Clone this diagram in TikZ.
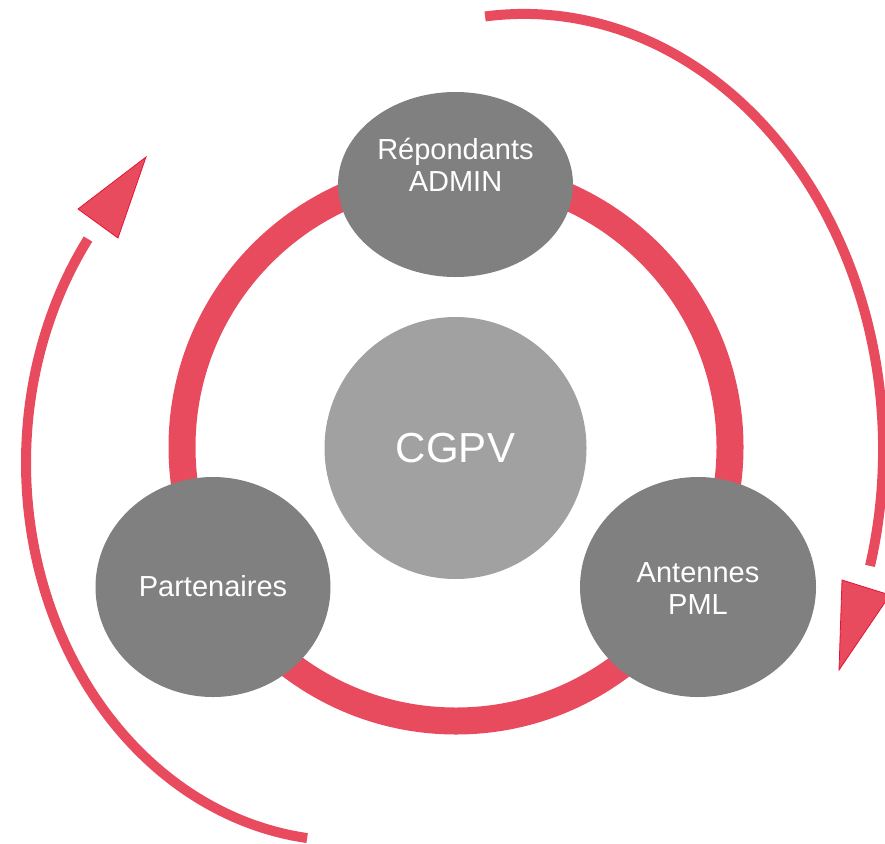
\documentclass[tikz,border=0pt]{standalone}
\usepackage{fontspec}
\setmainfont{Liberation Sans}
\usetikzlibrary{shapes.geometric}
\definecolor{ringred}{RGB}{232,75,94}
\definecolor{edgered}{RGB}{226,22,52}
\definecolor{darkg}{RGB}{128,128,128}
\definecolor{lightg}{RGB}{161,161,161}
\tikzset{
  bubble/.style={ellipse, fill=darkg, inner sep=0pt},
  hub/.style={circle, fill=lightg, inner sep=0pt, minimum size=262pt},
  lbl/.style={text=white, font=\fontsize{29}{33}\selectfont, anchor=base, inner sep=0pt},
  arcline/.style={draw=ringred, line width=10pt},
  head/.style={fill=ringred, draw=edgered, line width=0.8pt, line join=miter},
}
\begin{document}
\begin{tikzpicture}[x=1pt,y=-1pt]
\useasboundingbox (0,0) rectangle (885,843);
\clip (0,0) rectangle (885,843);
% ring
\coordinate (rc) at (456,447);
\draw[ringred, line width=27pt] (rc) circle[radius=274pt];
% outer arcs (elliptical)
\draw[arcline] plot[domain=-96.2:15.5, samples=120, smooth] ({523.9+359.2*cos(\x)}, {449.5+435.6*sin(\x)});
\draw[arcline] plot[domain=96.9:216.3, samples=120, smooth] ({345.5+319.5*cos(\x)}, {462.8+378*sin(\x)});
% arrowheads
\coordinate (ha1) at (78,209);
\coordinate (ha2) at (146,157);
\coordinate (ha3) at (118,238);
\filldraw[head] (ha1) -- (ha2) -- (ha3) -- cycle;
\coordinate (hb1) at (842,580);
\coordinate (hb2) at (890,595);
\coordinate (hb3) at (839,670);
\filldraw[head] (hb1) -- (hb2) -- (hb3) -- cycle;
% bubbles
\node[bubble, minimum width=235pt, minimum height=185pt] (top) at (455.5,184.5) {};
\node[bubble, minimum width=235pt, minimum height=220pt] (left) at (213,587) {};
\node[bubble, minimum width=236pt, minimum height=220pt] (right) at (698,587) {};
\node[hub] (cgpv) at (455.5,448) {};
% labels
\node[lbl] (t1) at (455.5,159) {Répondants};
\node[lbl] (t2) at (455.5,191) {ADMIN};
\node[lbl] (t3) at (213,596) {Partenaires};
\node[lbl] (t4) at (698,582) {Antennes};
\node[lbl] (t5) at (698,614) {PML};
\node[lbl, font=\fontsize{42}{48}\selectfont] (t6) at (455.5,462) {CGPV};
\end{tikzpicture}
\end{document}
